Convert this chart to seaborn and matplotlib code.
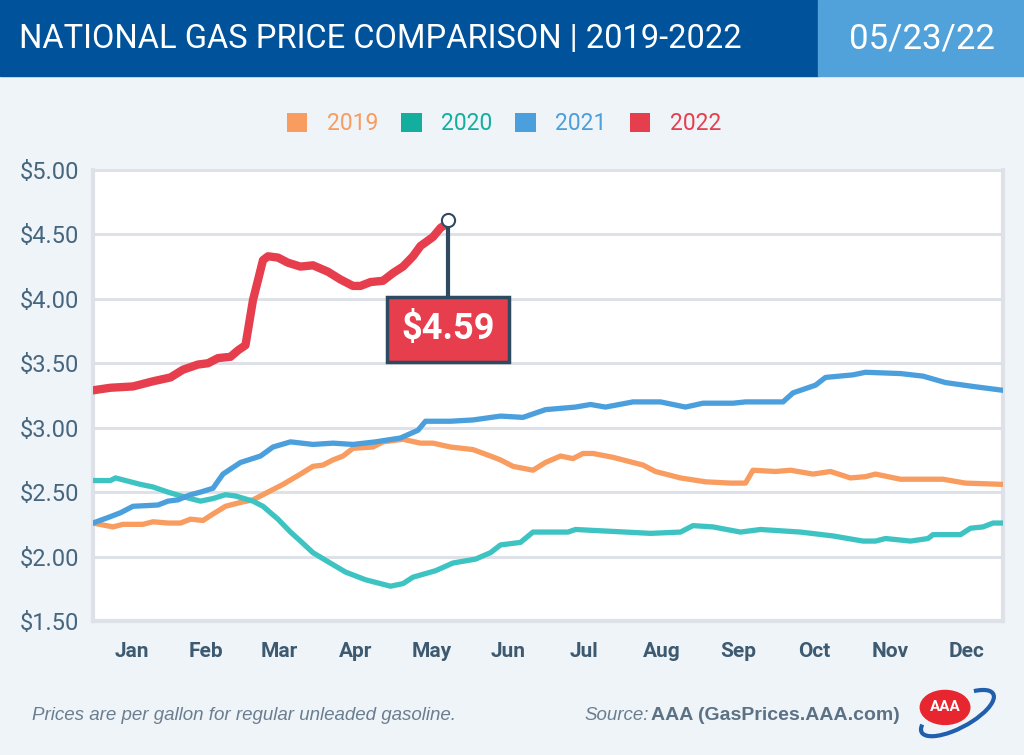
import numpy as np
import pandas as pd
import matplotlib.pyplot as plt
import matplotlib.patches as mpatches
import seaborn as sns

# valores (dia do ano, preco em dolares)
days_2019 = [0, 8, 12, 20, 24, 30, 35, 39, 44, 48, 53, 59, 64, 70, 76, 83, 88, 92, 96, 100,
             104, 112, 116, 124, 131, 136, 143, 152, 159, 163, 168, 176, 181, 187, 192, 196,
             200, 208, 216, 220, 225, 235, 245, 255, 261, 264, 273, 279, 288, 295, 303, 309,
             313, 323, 340, 349, 364]
price_2019 = [2.26, 2.23, 2.25, 2.25, 2.27, 2.26, 2.26, 2.29, 2.28, 2.33, 2.39, 2.42, 2.44, 2.50,
              2.56, 2.64, 2.70, 2.71, 2.75, 2.78, 2.84, 2.85, 2.89, 2.91, 2.88, 2.88, 2.85, 2.83,
              2.78, 2.75, 2.70, 2.67, 2.73, 2.78, 2.76, 2.80, 2.80, 2.77, 2.73, 2.71, 2.66, 2.61,
              2.58, 2.57, 2.57, 2.67, 2.66, 2.67, 2.64, 2.66, 2.61, 2.62, 2.64, 2.60, 2.60, 2.57,
              2.56]

days_2020 = [0, 7, 9, 19, 24, 30, 37, 43, 48, 53, 57, 64, 68, 74, 79, 83, 88, 94, 101, 109,
             119, 124, 128, 137, 144, 153, 159, 163, 171, 176, 190, 193, 203, 223, 235, 240,
             248, 259, 267, 283, 296, 308, 313, 317, 327, 334, 336, 347, 351, 356, 360, 364]
price_2020 = [2.59, 2.59, 2.61, 2.56, 2.54, 2.50, 2.46, 2.43, 2.45, 2.48, 2.47, 2.43, 2.39, 2.29,
              2.19, 2.12, 2.03, 1.96, 1.88, 1.82, 1.77, 1.79, 1.84, 1.89, 1.95, 1.98, 2.03, 2.09,
              2.11, 2.19, 2.19, 2.21, 2.20, 2.18, 2.19, 2.24, 2.23, 2.19, 2.21, 2.19, 2.16, 2.12,
              2.12, 2.14, 2.12, 2.14, 2.17, 2.17, 2.22, 2.23, 2.26, 2.26]

days_2021 = [0, 7, 11, 16, 26, 30, 34, 39, 43, 48, 52, 59, 67, 72, 79, 88, 96, 104, 113, 123,
             130, 133, 143, 152, 163, 172, 181, 193, 199, 205, 216, 227, 237, 244, 256, 261,
             276, 280, 289, 293, 304, 309, 323, 332, 341, 352, 364]
price_2021 = [2.26, 2.31, 2.34, 2.39, 2.40, 2.43, 2.44, 2.48, 2.50, 2.53, 2.64, 2.73, 2.78, 2.85,
              2.89, 2.87, 2.88, 2.87, 2.89, 2.92, 2.98, 3.05, 3.05, 3.06, 3.09, 3.08, 3.14, 3.16,
              3.18, 3.16, 3.20, 3.20, 3.16, 3.19, 3.19, 3.20, 3.20, 3.27, 3.33, 3.39, 3.41, 3.43,
              3.42, 3.40, 3.35, 3.32, 3.29]

days_2022 = [0, 7, 16, 24, 31, 36, 42, 46, 50, 55, 58, 61, 64, 68, 70, 74, 78, 83, 88, 94,
             99, 104, 107, 111, 116, 120, 124, 128, 131, 136, 139, 142]
price_2022 = [3.29, 3.31, 3.32, 3.36, 3.39, 3.45, 3.49, 3.50, 3.54, 3.55, 3.60, 3.64, 3.99, 4.30,
              4.33, 4.32, 4.28, 4.25, 4.26, 4.21, 4.15, 4.10, 4.10, 4.13, 4.14, 4.20, 4.25, 4.33,
              4.41, 4.48, 4.55, 4.59]

years = ['2019', '2020', '2021', '2022']
colors = ['#F89C5F', '#3EC3C3', '#4A9FDC', '#E63E4D']
legend_colors = ['#F89C5F', '#14AE9F', '#4A9FDC', '#E63E4D']
months = ['Jan', 'Feb', 'Mar', 'Apr', 'May', 'Jun', 'Jul', 'Aug', 'Sep', 'Oct', 'Nov', 'Dec']
month_len = [31, 28, 31, 30, 31, 30, 31, 31, 30, 31, 30, 31]
y_ticks = [1.5, 2.0, 2.5, 3.0, 3.5, 4.0, 4.5, 5.0]

df = pd.concat([
    pd.DataFrame({'day': d, 'price': p, 'year': y})
    for d, p, y in zip([days_2019, days_2020, days_2021, days_2022],
                       [price_2019, price_2020, price_2021, price_2022], years)
])

sns.set_style('white')
plt.rcParams['font.family'] = ['Roboto', 'DejaVu Sans']
FOOT = ['Liberation Sans', 'DejaVu Sans']

BG = '#EFF4F9'
SLATE = '#46667E'
GRID = '#DEE2E8'
DARK = '#2E4A60'

fig = plt.figure(figsize=(10.24, 7.55), dpi=100, facecolor=BG)

# cabecalho
fig.patches.append(mpatches.Rectangle((0, 0.8993), 0.799, 0.1007, transform=fig.transFigure,
                                      color='#00529B', zorder=0))
fig.patches.append(mpatches.Rectangle((0.799, 0.8993), 0.201, 0.1007, transform=fig.transFigure,
                                      color='#51A1DB', zorder=0))
fig.text(0.019, 0.949, 'NATIONAL GAS PRICE COMPARISON | 2019-2022', color='white',
         fontsize=23.5, va='center', ha='left')
fig.text(0.9, 0.949, '05/23/22', color='white', fontsize=25, va='center', ha='center')

ax = fig.add_axes([0.0908, 0.1775, 0.8887, 0.5974])
ax.set_facecolor('white')

for y, c in zip(years, colors):
    lw = 6 if y == '2022' else 3.8
    sns.lineplot(data=df[df['year'] == y], x='day', y='price', color=c, linewidth=lw,
                 estimator=None, ax=ax, zorder=3, solid_capstyle='round')

ax.set_xlim(0, 364)
ax.set_ylim(1.5, 5.0)
ax.set_xlabel('')
ax.set_ylabel('')

ax.set_yticks(y_ticks)
ax.set_yticklabels([f'${v:.2f}' for v in y_ticks], color=SLATE, fontsize=17)
ax.yaxis.grid(True, color=GRID, linewidth=2.2)
ax.tick_params(axis='y', length=0, pad=10)

bounds = np.cumsum(month_len)
centers = bounds - np.array(month_len) / 2
ax.set_xticks(bounds[:-1])
ax.set_xticklabels([])
ax.set_xticks(centers, minor=True)
ax.set_xticklabels(months, minor=True, color='#3D5A70', fontsize=15, fontweight='bold')
ax.tick_params(axis='x', which='major', length=13, width=2.5, color='#C9CED5', direction='out')
ax.tick_params(axis='x', which='minor', length=0, pad=15)

for side in ['left', 'bottom', 'right', 'top']:
    ax.spines[side].set_color(GRID)
    ax.spines[side].set_linewidth(3)
ax.spines['top'].set_linewidth(2)

# marcador e caixa do ultimo valor
last_d, last_p = days_2022[-1], price_2022[-1]
ax.plot([last_d, last_d], [last_p, 4.0], color=DARK, linewidth=3, zorder=4)
ax.scatter([last_d], [last_p + 0.02], s=90, facecolor='white', edgecolor=DARK, linewidth=1.5, zorder=6)
ax.text(last_d, 3.765, f'${last_p:.2f}', color='white', fontsize=26, fontweight='bold',
        ha='center', va='center', zorder=7,
        bbox=dict(boxstyle='square,pad=0.4', facecolor='#E63E4D', edgecolor=DARK, linewidth=2.5))

# legenda
handles = [mpatches.Patch(facecolor=c, edgecolor='none') for c in legend_colors]
leg = fig.legend(handles, years, loc='center', bbox_to_anchor=(0.492, 0.836), ncol=4,
                 frameon=False, fontsize=16.5, handlelength=0.9, handleheight=0.9,
                 handletextpad=0.85, columnspacing=1.0)
for t, c in zip(leg.get_texts(), legend_colors):
    t.set_color(c)

# rodape
fig.text(0.031, 0.052, 'Prices are per gallon for regular unleaded gasoline.', color='#6A7E90',
         fontsize=13.5, style='italic', ha='left', va='center', family=FOOT)
fig.text(0.636, 0.052, 'AAA (GasPrices.AAA.com)', color='#5C7284', fontsize=14,
         fontweight='bold', ha='left', va='center', family=FOOT)
fig.text(0.634, 0.052, 'Source:', color='#6A7E90', fontsize=13.5, style='italic',
         ha='right', va='center', family=FOOT)

# logo AAA simplificado
logo = fig.add_axes([0.88, 0.0, 0.11, 0.15])
logo.set_xlim(0, 1)
logo.set_ylim(0, 1)
logo.axis('off')
logo.add_patch(mpatches.Arc((0.5, 0.37), 0.72, 0.26, angle=28, theta1=170, theta2=25,
                            color='#1F5FAE', linewidth=3))
logo.add_patch(mpatches.Ellipse((0.39, 0.42), 0.44, 0.3, color='#E8262F'))
logo.text(0.39, 0.42, 'AAA', color='white', fontsize=11, fontweight='bold', ha='center', va='center')

fig.savefig('out.png', dpi=100, facecolor=BG)
